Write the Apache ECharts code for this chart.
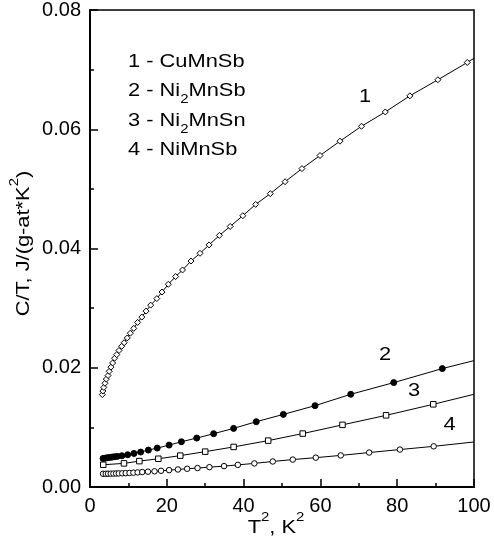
<!DOCTYPE html>
<html>
<head>
<meta charset="utf-8">
<script src="https://cdn.jsdelivr.net/npm/echarts@6/dist/echarts.min.js"></script>
<style>
  html, body { margin: 0; padding: 0; background: #fff; }
  #chart { width: 494px; height: 542px; }
</style>
</head>
<body>
<div id="chart"></div>
<script>
// Heat capacity C/T, J/(g-at*K^2), against T^2, K^2, for four Heusler-type alloys.

// 1 - CuMnSb (open diamonds)
const t2CuMnSb = [3.2, 3.35, 3.6, 3.9, 4.25, 4.7, 5.0, 5.45, 5.9, 6.4, 6.95, 7.55, 8.25, 8.9, 9.7,
  10.5, 11.4, 12.4, 13.5, 14.6, 15.8, 17.4, 18.75, 20.4, 22.3, 24.1, 26.3, 28.65, 31.0, 33.7,
  36.5, 39.8, 43.15, 46.95, 50.8, 55.2, 59.9, 65.1, 70.7, 76.9, 83.3, 90.6, 98.25];
const ctCuMnSb = [0.0155, 0.0161, 0.0167, 0.0174, 0.0181, 0.0187, 0.0194, 0.0201, 0.0208, 0.0216,
  0.0222, 0.0229, 0.0236, 0.0242, 0.0250, 0.0258, 0.0266, 0.0276, 0.0285, 0.0295, 0.0305, 0.0316,
  0.0327, 0.0340, 0.0353, 0.0364, 0.0379, 0.0392, 0.0406, 0.0422, 0.0437, 0.0455, 0.0474, 0.0492,
  0.0512, 0.0534, 0.0556, 0.0580, 0.0605, 0.0629, 0.0656, 0.0683, 0.0712];

// 2 - Ni2MnSb (filled circles)
const t2Ni2MnSb = [3.4, 4.0, 4.5, 5.1, 5.7, 6.3, 7.1, 8.3, 9.8, 11.45, 13.2, 15.2, 17.5, 20.6,
  23.8, 27.8, 32.2, 37.4, 43.3, 50.35, 58.6, 67.9, 79.1, 91.75];
const ctNi2MnSb = [0.00479, 0.00484, 0.00491, 0.00496, 0.00501, 0.00507, 0.00513, 0.00524, 0.00541,
  0.00563, 0.00586, 0.00619, 0.00653, 0.00703, 0.00759, 0.00821, 0.00894, 0.00983, 0.01095,
  0.01218, 0.01364, 0.01555, 0.01751, 0.01986];

// 3 - Ni2MnSn (open squares)
const t2Ni2MnSn = [3.45, 8.85, 12.85, 17.8, 23.5, 30.0, 37.4, 46.4, 55.4, 65.75, 77.1, 89.4];
const ctNi2MnSn = [0.00373, 0.00396, 0.00434, 0.00474, 0.00526, 0.00593, 0.00672, 0.00778,
  0.00896, 0.01042, 0.01202, 0.01387];

// 4 - NiMnSb (open circles)
const t2NiMnSb = [3.4, 4.1, 4.7, 5.4, 6.1, 6.8, 7.5, 8.4, 9.3, 10.3, 11.3, 12.4, 13.6, 15.1, 16.8,
  18.5, 20.6, 22.9, 25.3, 28.0, 31.1, 34.9, 38.5, 42.8, 47.6, 52.8, 58.8, 65.3, 72.7, 80.7, 89.5];
const ctNiMnSb = [0.00222, 0.00222, 0.00223, 0.00224, 0.00225, 0.00226, 0.00228, 0.00230, 0.00232,
  0.00236, 0.00240, 0.00245, 0.00251, 0.00257, 0.00263, 0.00272, 0.00283, 0.00294, 0.00306,
  0.00318, 0.00333, 0.00350, 0.00371, 0.00396, 0.00428, 0.00460, 0.00492, 0.00530, 0.00578,
  0.00628, 0.00682];

// Where each fitted curve leaves the frame, at T^2 = 100
const fitEndT2 = 100;
const fitEndCt = [0.0719, 0.0212, 0.01555, 0.00755];

// Axis ticks
const xTicks = [0, 20, 40, 60, 80, 100];
const yTicks = [0.00, 0.02, 0.04, 0.06, 0.08];

const FONT = 'Liberation Sans, Arial, Helvetica, sans-serif';
const MAIN = 19;      // body text size
const SMALL = 13;     // sub/superscript size
const STRETCH = 1.15; // horizontal stretch of the annotation lettering

function curve(t2, ct, endCt, symbol, size, fill) {
  const data = t2.map((x, i) => [x, ct[i]]);
  data.push({ value: [fitEndT2, endCt], symbol: 'none' });
  return {
    type: 'line',
    data: data,
    symbol: symbol,
    symbolSize: size,
    showSymbol: true,
    showAllSymbol: true,
    silent: true,
    animation: false,
    lineStyle: { color: '#000', width: 1 },
    itemStyle: { color: fill, borderColor: '#000', borderWidth: 1 }
  };
}

function axisCommon() {
  return {
    type: 'value',
    axisLine: { show: true, onZero: false, lineStyle: { color: '#000', width: 2 } },
    axisTick: { show: true, inside: true, length: 8, lineStyle: { color: '#000', width: 1.5 } },
    minorTick: { show: true, splitNumber: 2, length: 4, lineStyle: { color: '#000', width: 1.5 } },
    splitLine: { show: false },
    minorSplitLine: { show: false }
  };
}

// Text runs with sub/superscripts: each run is [text, size, verticalShift]
const measureCtx = document.createElement('canvas').getContext('2d');
function runWidth(text, size) {
  measureCtx.font = size + 'px ' + FONT;
  return measureCtx.measureText(text).width;
}
function richLabel(x, y, runs, anchor, rotation) {
  const total = runs.reduce((s, r) => s + runWidth(r[0], r[1]), 0);
  let cx = anchor === 'center' ? -total / 2 : 0;
  const children = runs.map(r => {
    const el = {
      type: 'text',
      x: cx,
      y: r[2],
      silent: true,
      style: {
        text: r[0],
        fill: '#000',
        font: r[1] + 'px ' + FONT,
        align: 'left', textAlign: 'left',
        verticalAlign: 'middle', textVerticalAlign: 'middle'
      }
    };
    cx += runWidth(r[0], r[1]);
    return el;
  });
  return {
    type: 'group',
    x: x, y: y,
    scaleX: STRETCH,
    rotation: rotation || 0,
    silent: true,
    children: children
  };
}

const SUB = 9, SUP = -10;
const legendRows = [
  [['1 - CuMnSb', MAIN, 0]],
  [['2 - Ni', MAIN, 0], ['2', SMALL, SUB], ['MnSb', MAIN, 0]],
  [['3 - Ni', MAIN, 0], ['2', SMALL, SUB], ['MnSn', MAIN, 0]],
  [['4 - NiMnSb', MAIN, 0]]
];
const legendY = [61.7, 90.8, 120.8, 150];

const curveLabels = ['1', '2', '3', '4'];
const curveLabelPos = [[365, 97], [385, 355], [414, 391], [449.5, 425]];

const graphics = [];
legendRows.forEach((runs, i) => graphics.push(richLabel(128, legendY[i], runs, 'left')));
curveLabels.forEach((t, i) =>
  graphics.push(richLabel(curveLabelPos[i][0], curveLabelPos[i][1], [[t, MAIN, 0]], 'center')));
// axis titles
graphics.push(richLabel(276, 527.5,
  [['T', MAIN, 0], ['2', SMALL, SUP], [', K', MAIN, 0], ['2', SMALL, SUP]], 'center'));
graphics.push(richLabel(24, 243.5,
  [['C/T, J/(g-at*K', MAIN, 0], ['2', SMALL, SUP], [')', MAIN, 0]], 'center', Math.PI / 2));

const chart = echarts.init(document.getElementById('chart'), null, { renderer: 'canvas' });
chart.setOption({
  animation: false,
  backgroundColor: '#fff',
  grid: {
    left: 90, right: 20, top: 10, bottom: 55,
    show: true, borderColor: '#000', borderWidth: 1.5, backgroundColor: 'transparent'
  },
  xAxis: Object.assign(axisCommon(), {
    min: xTicks[0],
    max: xTicks[xTicks.length - 1],
    interval: xTicks[1] - xTicks[0],
    axisLabel: { fontSize: 20, fontFamily: FONT, color: '#000', margin: 9 }
  }),
  yAxis: Object.assign(axisCommon(), {
    min: yTicks[0],
    max: yTicks[yTicks.length - 1],
    interval: yTicks[1] - yTicks[0],
    axisLabel: {
      fontSize: 20, fontFamily: FONT, color: '#000', margin: 9,
      formatter: v => v.toFixed(2)
    }
  }),
  series: [
    curve(t2CuMnSb, ctCuMnSb, fitEndCt[0], 'diamond', 6, '#fff'),
    curve(t2Ni2MnSb, ctNi2MnSb, fitEndCt[1], 'circle', 6, '#000'),
    curve(t2Ni2MnSn, ctNi2MnSn, fitEndCt[2], 'rect', 5.5, '#fff'),
    curve(t2NiMnSb, ctNiMnSb, fitEndCt[3], 'circle', 5.5, '#fff')
  ],
  graphic: graphics
});
</script>
</body>
</html>
